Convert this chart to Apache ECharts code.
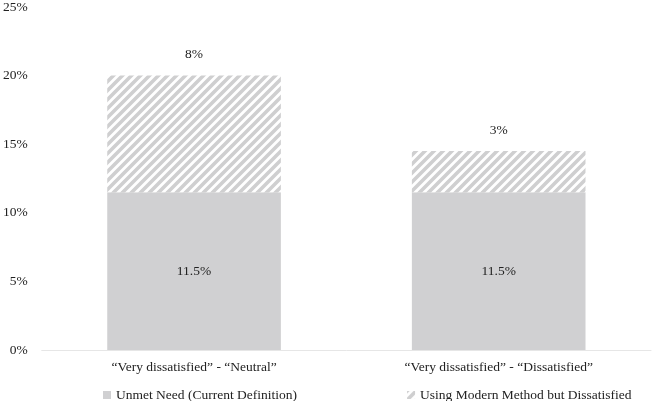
<!DOCTYPE html>
<html>
<head>
<meta charset="utf-8">
<script src="https://cdn.jsdelivr.net/npm/echarts@6/dist/echarts.min.js"></script>
<style>html,body{margin:0;padding:0;background:#fff}#c{width:652px;height:401px}</style>
</head>
<body>
<div id="c"></div>
<script>
const categories = ['\u201cVery dissatisfied\u201d - \u201cNeutral\u201d', '\u201cVery dissatisfied\u201d - \u201cDissatisfied\u201d'];
const seriesNames = ['Unmet Need (Current Definition)', 'Using Modern Method but Dissatisfied'];
const unmetNeed = [11.5, 11.5];
const modernDissatisfied = [8.5, 3];
const unmetLabels = ['11.5%', '11.5%'];
const modernLabels = ['8%', '3%'];
const yTicks = [0, 5, 10, 15, 20, 25];

function makePattern() {
  const s = 9;
  const cv = document.createElement('canvas');
  cv.width = s; cv.height = s;
  const ctx = cv.getContext('2d');
  ctx.fillStyle = '#ffffff';
  ctx.fillRect(0, 0, s, s);
  ctx.strokeStyle = '#cfcfd0';
  ctx.lineWidth = 3.6;
  ctx.lineCap = 'square';
  for (let k = -1; k <= 1; k++) {
    ctx.beginPath();
    ctx.moveTo(k * s - 1, s + 1);
    ctx.lineTo(k * s + s + 1, -1);
    ctx.stroke();
  }
  return cv;
}
const pattern = { image: makePattern(), repeat: 'repeat' };

const font = '"Liberation Serif", "Times New Roman", serif';
const fs = 13.5;
const chart = echarts.init(document.getElementById('c'));
chart.setOption({
  animation: false,
  textStyle: { fontFamily: font },
  grid: { left: 38, right: 1, top: 5, bottom: 51, containLabel: false },
  legend: {
    data: seriesNames,
    left: 103, top: 388, padding: 0,
    itemWidth: 8, itemHeight: 8, itemGap: 110,
    icon: 'rect',
    textStyle: { fontFamily: font, fontSize: fs, color: '#222' }
  },
  xAxis: {
    type: 'category', data: categories,
    axisLine: { lineStyle: { color: '#e6e6e6', width: 1 } },
    axisTick: { show: false },
    axisLabel: { fontFamily: font, fontSize: fs, color: '#222', margin: 10 }
  },
  yAxis: {
    type: 'value', min: yTicks[0], max: yTicks[yTicks.length - 1], interval: 5,
    axisLine: { show: false }, axisTick: { show: false },
    splitLine: { show: false },
    axisLabel: { fontFamily: font, fontSize: fs, color: '#222', margin: 14, formatter: v => v + '%' }
  },
  series: [
    {
      name: seriesNames[0], type: 'bar', stack: 's', data: unmetNeed, barWidth: '57%',
      itemStyle: { color: '#d0d0d2' },
      label: { show: true, position: 'inside', fontFamily: font, fontSize: fs, color: '#222',
        formatter: p => unmetLabels[p.dataIndex] }
    },
    {
      name: seriesNames[1], type: 'bar', stack: 's', data: modernDissatisfied, barWidth: '57%',
      itemStyle: { color: pattern },
      label: { show: true, position: 'top', distance: 14, fontFamily: font, fontSize: fs, color: '#222',
        formatter: p => modernLabels[p.dataIndex] }
    }
  ]
});
</script>
</body>
</html>
